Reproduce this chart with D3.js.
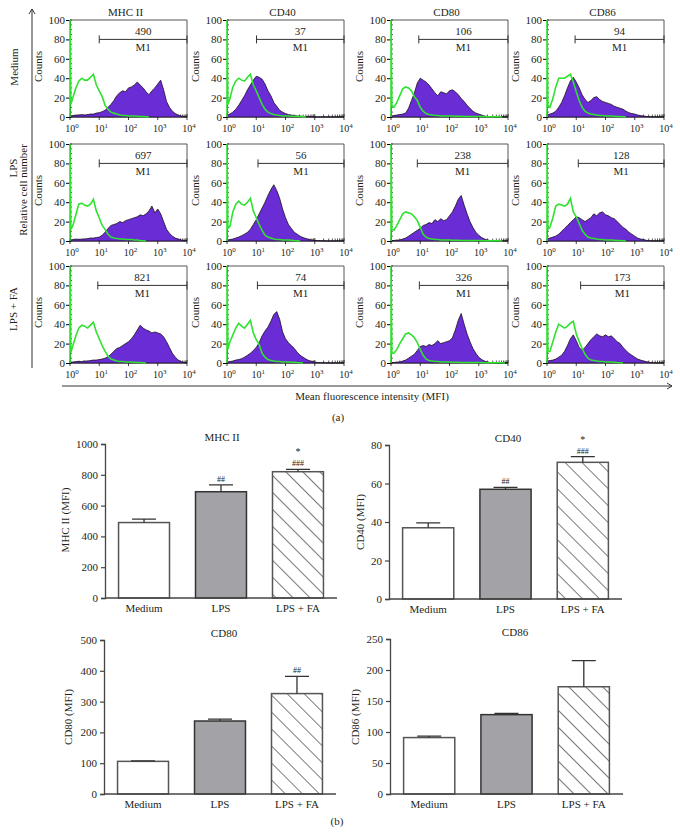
<!DOCTYPE html>
<html><head><meta charset="utf-8">
<script src="https://cdn.jsdelivr.net/npm/d3@7"></script>
<style>
body{margin:0;background:#fff}
svg{display:block}
text{font-family:"Liberation Serif","DejaVu Serif",serif;fill:#231f20}
</style>
</head><body>
<svg id="c" width="680" height="835"></svg>
<script>
// ---------------- DATA ----------------
const markers = ["MHC II", "CD40", "CD80", "CD86"];
const conditions = ["Medium", "LPS", "LPS + FA"];
const decadeTicks = [1, 10, 100, 1000, 10000];
const countTicks = [0, 20, 40, 60, 80, 100];
// M1 gate: value shown, start of gate (log10 channel)
const gateMedium = [490, 37, 106, 94];
const gateLPS = [697, 56, 238, 128];
const gateLPSFA = [821, 74, 326, 173];
const gateStartMedium = [1.0, 1.01, 0.95, 0.96];
const gateStartLPS = [1.0, 1.06, 0.9, 1.07];
const gateStartLPSFA = [0.95, 1.04, 0.97, 1.15];

// histogram bins (log10 of fluorescence channel)
const binLog = [0,0.1,0.2,0.3,0.4,0.5,0.6,0.7,0.8,0.9,1.0,1.1,1.2,1.3,1.4,1.5,1.6,1.7,1.8,1.9,2.0,
                2.1,2.2,2.3,2.4,2.5,2.6,2.7,2.8,2.9,3.0,3.1,3.2,3.3,3.4,3.5,3.6,3.7,3.8,3.9,4.0];
const isoBinLog = [0,0,0.03,0.1,0.2,0.3,0.4,0.5,0.6,0.7,0.8,0.9,1.0,1.1,1.2,1.3,1.4,1.5,1.6,1.7,1.8,1.9,2.0,
                2.1,2.2,2.3,2.4,2.5,2.6,2.7,2.8,2.9,3.0,3.1,3.2,3.3,3.4,3.5,3.6,3.7,3.8,3.9,4.0];

// stained (purple) histograms
const stMedMHC  = [1,1.5,2,2,2.5,2,2.5,3,3,4,4.5,5.5,7,10,13,17,22,25,27,26,30,31,33,36,33,30,26,23,27,30,34,38,28,16,10,6,3.5,2,1,0.5,0];
const stMedCD40 = [2,3,5,8,12,17,22,28,33,38,42,41,39,34,27,22,15,11,7,5,3.5,2.5,2,1.5,1,1,0.5,0.5,0.3,0,0,0,0,0,0,0,0,0,0,0,0];
const stMedCD80 = [1,1.5,2,2.5,3,4,9,17,25,35,40,38,36,33,29,25,22,26,25,24,27,28,26,23,19,16,12,9,6,4,3,2,1,0.5,0.3,0.3,0,0,0,0,0];
const stMedCD86 = [2,3,4,6,10,15,22,30,37,41,36,30,23,18,15,17,20,21,18,16,15,14,13,11,10,9,8,6,4.5,3.5,3,2,1.5,1,0.5,0.3,0,0,0,0,0];
const stLpsMHC  = [1,1.5,2,1.5,2,2,2.5,3,3,3.5,4,6,9,13,16,17,18,20,19,21,22,23,24,25,27,26,28,31,36,29,33,28,20,12,8,5,3,2,1,0.5,0];
const stLpsCD40 = [1,1.5,2,3,4,5.5,7,9,12,17,22,28,34,40,47,53,58,52,44,33,24,17,13,9,7,5,3.5,2.5,1.5,1,0.7,0.5,0.3,0.2,0,0,0,0,0,0,0];
const stLpsCD80 = [0.5,0.5,1,1,2,3,5,7,9,11,13,16,17,19,18,22,20,23,21,22,26,30,36,43,47,37,28,20,14,9,6,3.5,2,1,0.5,0.2,0,0,0,0,0];
const stLpsCD86 = [2,3,4,5,7,10,13,16,19,22,25,24,22,20,22,24,28,26,29,30,27,26,24,23,20,17,14,12,9,7,5,3,2,1.5,0.7,0.3,0,0,0,0,0];
const stFaMHC   = [1,1,1.5,1.5,1.5,2,2,2.5,3,3,3.5,4,5,6.5,9,12,15,16,18,20,22,25,29,34,39,36,34,33,31,32,31,30,27,22,16,10,6,3,1.5,0.5,0];
const stFaCD40  = [1,1.5,2,3,3.5,4.5,6,8,10,13,16,21,28,33,37,43,50,53,45,32,25,21,18,15,11,8,6,4,2.5,1.5,1,0.5,0.3,0.2,0,0,0,0,0,0,0];
const stFaCD80  = [0.5,0.5,1,1,2,3,5,7,9,13,17,18,17,19,18,20,23,20,21,22,23,26,34,44,51,40,30,22,15,10,6,3.5,2,1,0.5,0.2,0,0,0,0,0];
const stFaCD86  = [2,2.5,3,4,6,8,12,18,25,29,23,16,13,16,20,24,27,30,28,27,29,27,28,25,22,20,16,13,10,8,6,4,3,2,1.5,0.7,0.3,0,0,0,0];

// isotype control (green) histograms
const isoMedMHC  = [0,100,13,20,30,37,40,38,38,41,44,33,27,21,12,8,5,4,3,2,1.5,1.5,1,1,1,0.8,0.5,0.5,0.3,0];
const isoMedCD40 = [0,100,13,19,31,37,40,38,37,41,44,33,27,20,13,8,5,3.5,2.5,2,1.5,1,1,1,0.8,0.8,0.5,0.5,0.3,0];
const isoMedCD80 = [0,100,12,10,15,22,29,31,30,27,21,17,10,6,3.5,2.5,2,1.5,1.5,1,1,1,1,1,0.8,0.8,0.8,0.5,0.5,0.5,0.5,0.5,0.5,0.5,0.5,0.3,0.3,0.3,0.3,0.3,0];
const isoMedCD86 = [0,100,12,10,19,31,40,40,40,42,44,36,26,17,10,6,4,3,2.5,2,1.5,1.5,1,1,1,0.8,0.5,0.5,0.3,0];
const isoLpsMHC  = [0,100,12,16,27,38,39,37,36,38,43,31,24,16,12,7,4,3,2.5,2,2,1.5,1.5,1.5,1,1,0.5,0.3,0];
const isoLpsCD40 = [0,100,13,15,30,38,41,38,37,40,44,31,24,17,11,6,4,3,2,1.5,1.5,1,1,1,0.8,0.5,0.3,0];
const isoLpsCD80 = [0,100,12,11,16,22,28,30,29,28,25,21,14,7,4,2.5,2,1.5,1.5,1,1,1,1,0.8,0.8,0.8,0.5,0.5,0.5,0.5,0.5,0.5,0.5,0.5,0.3,0.3,0.3,0.3,0.3,0.3,0];
const isoLpsCD86 = [0,100,12,14,24,36,38,37,36,38,44,30,25,18,11,7,4,3,2.5,2,1.5,1.5,1,1,1,0.8,0.5,0.5,0.3,0];
const isoFaMHC   = [0,100,11,18,28,36,39,38,36,39,42,32,25,18,12,7,4,3,2,1.5,1.5,1,1,1,0.8,0.5,0.5,0.3,0];
const isoFaCD40  = [0,100,14,22,29,36,41,38,36,40,44,31,24,19,10,6,3.5,2.5,2,1.5,1.5,1,1,1,0.8,0.8,0.5,0.3,0];
const isoFaCD80  = [0,100,10,10,14,20,25,30,31,29,26,21,14,8,4,2.5,2,1.5,1.5,1,1,1,1,0.8,0.8,0.8,0.5,0.5,0.5,0.5,0.5,0.5,0.5,0.5,0.3,0.3,0.3,0.3,0.3,0.3,0.3,0];
const isoFaCD86  = [0,100,12,12,22,32,40,38,36,38,41,43,30,22,15,9,5,3,2.5,2,1.5,1.5,1,1,1,0.8,0.5,0.3,0];

// bar charts (b): mean MFI and SEM
const barGroups = ["Medium", "LPS", "LPS + FA"];
const mhcMean = [490, 690, 820],  mhcSem = [22, 45, 15];
const cd40Mean = [37, 57, 71],    cd40Sem = [2.5, 1, 3];
const cd80Mean = [106, 237, 326], cd80Sem = [1.5, 6, 56];
const cd86Mean = [91, 128, 173],  cd86Sem = [2.5, 2, 42];
const mhcNotes  = [[], ["##"], ["*", "###"]];
const cd40Notes = [[], ["##"], ["*", "###"]];
const cd80Notes = [[], [], ["##"]];
const cd86Notes = [[], [], []];
const mhcTicks = [0, 200, 400, 600, 800, 1000];
const cd40Ticks = [0, 20, 40, 60, 80];
const cd80Ticks = [0, 100, 200, 300, 400, 500];
const cd86Ticks = [0, 50, 100, 150, 200, 250];

// ---------------- DRAW ----------------
const svg = d3.select("#c");
const defs = svg.append("defs");
const pat = defs.append("pattern").attr("id", "hatch").attr("patternUnits", "userSpaceOnUse")
  .attr("width", 12).attr("height", 12).attr("patternTransform", "rotate(-45)");
pat.append("rect").attr("width", 12).attr("height", 12).attr("fill", "#fff");
pat.append("line").attr("x1", 0).attr("y1", 0).attr("x2", 0).attr("y2", 12)
  .attr("stroke", "#333").attr("stroke-width", 1.3);

const stained = [[stMedMHC, stMedCD40, stMedCD80, stMedCD86],
                 [stLpsMHC, stLpsCD40, stLpsCD80, stLpsCD86],
                 [stFaMHC, stFaCD40, stFaCD80, stFaCD86]];
const isotype = [[isoMedMHC, isoMedCD40, isoMedCD80, isoMedCD86],
                 [isoLpsMHC, isoLpsCD40, isoLpsCD80, isoLpsCD86],
                 [isoFaMHC, isoFaCD40, isoFaCD80, isoFaCD86]];
const gates = [gateMedium, gateLPS, gateLPSFA];
const gateStarts = [gateStartMedium, gateStartLPS, gateStartLPSFA];

const colX = [70, 227, 391, 547];
const rowTop = [20, 144, 266];
const PW = 117, PH = 97;
const PURPLE = "#6a2cd4", GREEN = "#2fe22f";

function supLabel(sel, base, exp, fs) {
  sel.append("tspan").text(base);
  sel.append("tspan").attr("dy", -fs * 0.45).attr("font-size", fs * 0.7).text(exp);
}

// column titles
markers.forEach((m, c) => {
  svg.append("text").attr("x", colX[c] + PW / 2 - 3).attr("y", 16).attr("text-anchor", "middle")
    .attr("font-size", 11).text(m);
});

let clipId = 0;
conditions.forEach((cond, r) => {
  markers.forEach((m, c) => {
    const x0 = colX[c], y0 = rowTop[r];
    const g = svg.append("g");
    const x = d3.scaleLog().domain([1, 10000]).range([x0, x0 + PW]);
    const y = d3.scaleLinear().domain([0, 100]).range([y0 + PH, y0]);
    const id = "clip" + (clipId++);
    defs.append("clipPath").attr("id", id).append("rect")
      .attr("x", x0 - 1).attr("y", y0).attr("width", PW + 1).attr("height", PH + 1);

    // frame
    g.append("path").attr("d", `M${x0},${y0}H${x0 + PW}V${y0 + PH}`)
      .attr("fill", "none").attr("stroke", "#444").attr("stroke-width", 0.9);
    // y axis
    const ya = g.append("g").attr("transform", `translate(${x0},0)`)
      .call(d3.axisLeft(y).tickValues(countTicks).tickSize(4).tickFormat(d3.format("d")));
    ya.select(".domain").attr("stroke", "#111");
    ya.selectAll("text").attr("font-size", 11).attr("font-family", "Liberation Serif").attr("fill", "#231f20").attr("x", -5);
    g.append("g").selectAll("line").data(d3.range(0, 101, 5)).join("line")
      .attr("x1", x0).attr("x2", x0 + 2).attr("y1", d => y(d)).attr("y2", d => y(d))
      .attr("stroke", "#111").attr("stroke-width", 0.7);

    const plot = g.append("g").attr("clip-path", `url(#${id})`);
    const st = d3.zip(binLog, stained[r][c]).map(d => [Math.pow(10, d[0]), d[1]]);
    plot.append("path").datum(st)
      .attr("d", d3.area().x(d => x(d[0])).y0(y(0)).y1(d => y(d[1])))
      .attr("fill", PURPLE).attr("stroke", "#1a1020").attr("stroke-width", 0.8);

    // x axis
    g.append("line").attr("x1", x0).attr("x2", x0 + PW).attr("y1", y0 + PH).attr("y2", y0 + PH)
      .attr("stroke", "#111").attr("stroke-width", 0.9);
    const minors = [];
    [1, 10, 100, 1000].forEach(dec => [2, 3, 4, 5, 6, 7, 8, 9].forEach(k => minors.push(dec * k)));
    g.append("g").selectAll("line").data(minors).join("line")
      .attr("x1", d => x(d)).attr("x2", d => x(d)).attr("y1", y0 + PH).attr("y2", y0 + PH - 2.5)
      .attr("stroke", "#111").attr("stroke-width", 0.7);
    g.append("g").selectAll("line").data(decadeTicks).join("line")
      .attr("x1", d => x(d)).attr("x2", d => x(d)).attr("y1", y0 + PH - 3).attr("y2", y0 + PH + 3)
      .attr("stroke", "#111").attr("stroke-width", 0.8);

    const iso = d3.zip(isoBinLog, isotype[r][c]).map(d => [Math.pow(10, d[0]), d[1]]);
    plot.append("path").datum(iso)
      .attr("d", d3.line().x(d => x(d[0])).y(d => y(d[1])))
      .attr("fill", "none").attr("stroke", GREEN).attr("stroke-width", 1.6);
    plot.raise();

    decadeTicks.forEach((d, i) => {
      const t = g.append("text").attr("x", x(d) + 2).attr("y", y0 + PH + 15)
        .attr("text-anchor", "middle").attr("font-size", 10);
      supLabel(t, "10", String(i), 10);
    });
    // counts label
    g.append("text").attr("transform", `translate(${x0 - 28},${y(50) - 2}) rotate(-90)`)
      .attr("text-anchor", "middle").attr("font-size", 11).text("Counts");
    // M1 gate
    const gx1 = x(Math.pow(10, gateStarts[r][c])), gx2 = x(10000), gy = y(80);
    g.append("path").attr("d", `M${gx1},${gy - 4}V${gy + 4}M${gx1},${gy}H${gx2}M${gx2},${gy - 4}V${gy + 4}`)
      .attr("stroke", "#333").attr("stroke-width", 1).attr("fill", "none");
    g.append("text").attr("x", (gx1 + gx2) / 2).attr("y", gy - 4).attr("text-anchor", "middle")
      .attr("font-size", 11).text(gates[r][c]);
    g.append("text").attr("x", (gx1 + gx2) / 2).attr("y", gy + 12).attr("text-anchor", "middle")
      .attr("font-size", 11).text("M1");
  });
});

// row labels
svg.append("text").attr("transform", "translate(18,67) rotate(-90)").attr("text-anchor", "middle")
  .attr("font-size", 11).text(conditions[0]);
svg.append("text").attr("transform", "translate(17,168) rotate(-90)").attr("text-anchor", "middle")
  .attr("font-size", 11).text(conditions[1]);
svg.append("text").attr("transform", "translate(27,190) rotate(-90)").attr("text-anchor", "middle")
  .attr("font-size", 11).text("Relative cell number");
svg.append("text").attr("transform", "translate(17,309) rotate(-90)").attr("text-anchor", "middle")
  .attr("font-size", 11).text(conditions[2]);

// arrows
svg.append("path").attr("d", "M32,368V9M29,14L32,9L35,14").attr("fill", "none")
  .attr("stroke", "#333").attr("stroke-width", 1);
svg.append("path").attr("d", "M62,386H672M667,383L672,386L667,389").attr("fill", "none")
  .attr("stroke", "#333").attr("stroke-width", 1);
svg.append("text").attr("x", 372).attr("y", 400).attr("text-anchor", "middle").attr("font-size", 11)
  .text("Mean fluorescence intensity (MFI)");
svg.append("text").attr("x", 338).attr("y", 421).attr("text-anchor", "middle").attr("font-size", 11).text("(a)");

// ---------- bar charts ----------
function barChart(o) {
  const g = svg.append("g");
  const x = d3.scaleBand().domain(barGroups).range([o.ax, o.xEnd]).paddingInner(0.338).paddingOuter(0.176);
  const y = d3.scaleLinear().domain([0, o.ticks[o.ticks.length - 1]]).range([o.y0, o.yTop]);
  const fills = ["#fff", "#a3a3a7", "url(#hatch)"];
  const strokes = ["#555", "#333", "#555"];
  g.selectAll("rect.bar").data(o.mean).join("rect").attr("class", "bar")
    .attr("x", (d, i) => x(barGroups[i])).attr("width", x.bandwidth())
    .attr("y", d => y(d)).attr("height", d => y(0) - y(d))
    .attr("fill", (d, i) => fills[i]).attr("stroke", (d, i) => strokes[i]).attr("stroke-width", 1.5);
  o.mean.forEach((m, i) => {
    const cx = x(barGroups[i]) + x.bandwidth() / 2;
    const top = y(m + o.sem[i]);
    g.append("path").attr("d", `M${cx},${y(m)}V${top}M${cx - 12},${top}H${cx + 12}`)
      .attr("stroke", "#333").attr("stroke-width", 1.3).attr("fill", "none");
    const notes = o.notes[i];
    notes.forEach((n, k) => {
      const fromBottom = notes.length - 1 - k;
      g.append("text").attr("x", cx).attr("y", top - 3 - fromBottom * 10 - (n === "*" ? 1 : 0))
        .attr("text-anchor", "middle").attr("font-size", n === "*" ? 10 : 8).text(n);
    });
  });
  // axes
  g.append("line").attr("x1", o.ax).attr("x2", o.xEnd).attr("y1", o.y0).attr("y2", o.y0)
    .attr("stroke", "#444").attr("stroke-width", 1.3);
  const ya = g.append("g").attr("transform", `translate(${o.ax},0)`)
    .call(d3.axisLeft(y).tickValues(o.ticks).tickSize(4).tickFormat(d3.format("d")));
  ya.select(".domain").attr("stroke", "#444").attr("stroke-width", 1.3);
  ya.selectAll(".tick line").attr("stroke", "#444").attr("stroke-width", 1.2);
  ya.selectAll("text").attr("font-size", 11).attr("font-family", "Liberation Serif").attr("fill", "#231f20").attr("x", -7);
  barGroups.forEach(b => {
    g.append("text").attr("x", x(b) + x.bandwidth() / 2).attr("y", o.y0 + 14)
      .attr("text-anchor", "middle").attr("font-size", 11).text(b);
  });
  g.append("text").attr("x", o.tx).attr("y", o.yTop - 3).attr("text-anchor", "middle")
    .attr("font-size", 11).text(o.title);
  g.append("text").attr("transform", `translate(${o.lx},${o.ly}) rotate(-90)`)
    .attr("text-anchor", "middle").attr("font-size", 11).text(o.ylabel);
}

barChart({title: "MHC II", ylabel: "MHC II (MFI)", mean: mhcMean, sem: mhcSem, notes: mhcNotes, ticks: mhcTicks,
  ax: 105, xEnd: 337, y0: 598, yTop: 444, tx: 222, lx: 69, ly: 520});
barChart({title: "CD40", ylabel: "CD40 (MFI)", mean: cd40Mean, sem: cd40Sem, notes: cd40Notes, ticks: cd40Ticks,
  ax: 389, xEnd: 622, y0: 599, yTop: 445, tx: 508, lx: 364, ly: 522});
barChart({title: "CD80", ylabel: "CD80 (MFI)", mean: cd80Mean, sem: cd80Sem, notes: cd80Notes, ticks: cd80Ticks,
  ax: 104, xEnd: 336, y0: 794, yTop: 640, tx: 224, lx: 72, ly: 717});
barChart({title: "CD86", ylabel: "CD86 (MFI)", mean: cd86Mean, sem: cd86Sem, notes: cd86Notes, ticks: cd86Ticks,
  ax: 390, xEnd: 623, y0: 794, yTop: 639, tx: 515, lx: 359, ly: 717});

svg.append("text").attr("x", 337).attr("y", 825).attr("text-anchor", "middle").attr("font-size", 11).text("(b)");
</script>
</body></html>
